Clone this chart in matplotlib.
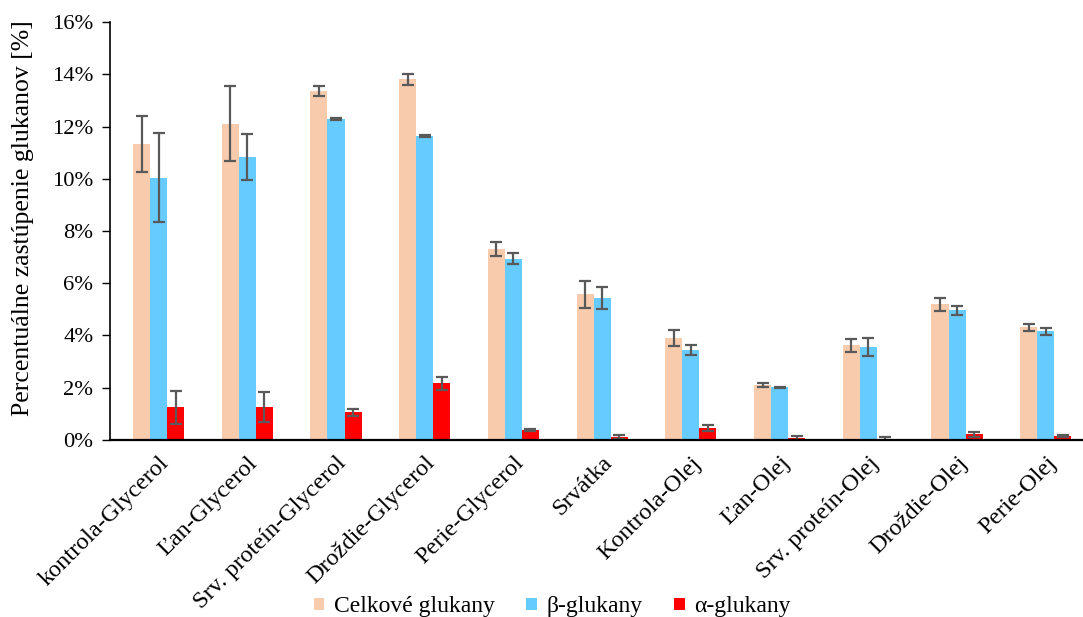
import matplotlib
matplotlib.use("Agg")
import matplotlib.pyplot as plt
import numpy as np
from matplotlib.ticker import FuncFormatter

plt.rcParams['font.family'] = ['Liberation Serif', 'DejaVu Serif']

categories = ["kontrola-Glycerol", "Ľan-Glycerol", "Srv. proteín-Glycerol",
              "Droždie-Glycerol", "Perie-Glycerol", "Srvátka", "Kontrola-Olej",
              "Ľan-Olej", "Srv. proteín-Olej", "Droždie-Olej", "Perie-Olej"]

celkove = [11.33, 12.12, 13.36, 13.82, 7.32, 5.58, 3.90, 2.11, 3.62, 5.19, 4.31]
celkove_err = [1.07, 1.45, 0.19, 0.21, 0.27, 0.51, 0.30, 0.08, 0.25, 0.24, 0.13]

beta = [10.05, 10.82, 12.29, 11.64, 6.94, 5.44, 3.44, 2.02, 3.56, 4.96, 4.16]
beta_err = [1.72, 0.88, 0.05, 0.05, 0.22, 0.42, 0.18, 0.02, 0.33, 0.16, 0.14]

alfa = [1.25, 1.26, 1.06, 2.17, 0.38, 0.11, 0.45, 0.07, 0.04, 0.22, 0.15]
alfa_err = [0.64, 0.58, 0.14, 0.25, 0.05, 0.09, 0.12, 0.08, 0.08, 0.09, 0.03]

series = [
    ("Celkové glukany", celkove, celkove_err, "#F8CBAD"),
    ("β-glukany", beta, beta_err, "#66CCFF"),
    ("α-glukany", alfa, alfa_err, "#FF0000"),
]

fig = plt.figure(figsize=(10.83, 6.17), dpi=100)
ax = fig.add_axes([0.1016, 0.287, 0.8984, 0.677])

x = np.arange(len(categories))
w = 0.192
for k, (name, vals, errs, col) in enumerate(series):
    ax.bar(x + (k - 1) * w, vals, w, color=col, label=name,
           yerr=errs, capsize=4.5,
           error_kw=dict(ecolor="#595959", elinewidth=1.6, capthick=1.6))

ax.set_ylim(0, 16)
ax.set_yticks(np.arange(0, 17, 2))
ax.yaxis.set_major_formatter(FuncFormatter(lambda v, p: f"{v:.0f}%"))
ax.set_xlim(-0.547, 10.42)
ax.set_xticks(x)
ax.set_xticklabels(categories, rotation=45, ha="right", rotation_mode="anchor")
ax.tick_params(axis="x", length=0, labelsize=17.5, pad=9)
ax.tick_params(axis="y", direction="out", length=6, width=1, labelsize=16.2, pad=6)
ax.set_ylabel("Percentuálne zastúpenie glukanov [%]", fontsize=18.5)
ax.yaxis.set_label_coords(-0.078, 0.53)

for s in ("top", "right"):
    ax.spines[s].set_visible(False)
ax.spines["left"].set_linewidth(1.2)
ax.spines["bottom"].set_linewidth(1.6)

fig.legend(loc="lower center", bbox_to_anchor=(0.51, -0.035), ncol=3,
           frameon=False, fontsize=17, handlelength=0.45, handleheight=0.45,
           handletextpad=0.4, columnspacing=1.35)

fig.savefig("out.png", dpi=100)
